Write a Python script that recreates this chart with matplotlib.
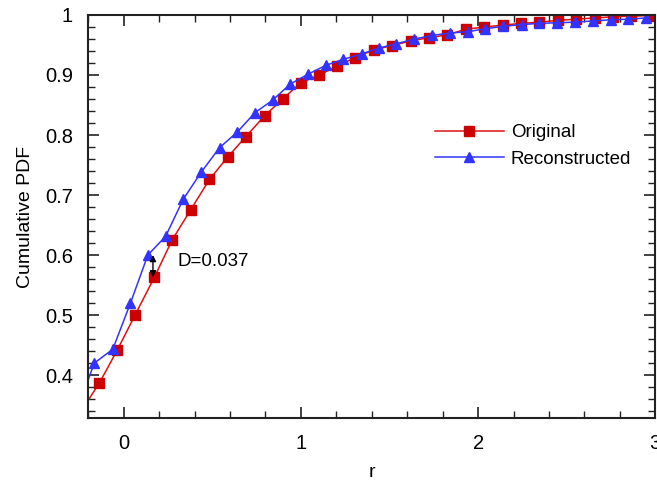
import matplotlib.pyplot as plt
from matplotlib.ticker import MultipleLocator, FormatStrFormatter

plt.rcParams['font.family'] = ['Liberation Sans', 'DejaVu Sans']

# --- CDF samples (first point of each lies just left of the plotted range) ---
r_orig = [-0.240, -0.137, -0.036, 0.064, 0.173, 0.273, 0.377, 0.484, 0.586, 0.688,
          0.795, 0.897, 0.998, 1.104, 1.206, 1.307, 1.412, 1.516, 1.620, 1.723,
          1.827, 1.929, 2.034, 2.138, 2.241, 2.346, 2.450, 2.552, 2.659, 2.760,
          2.862, 2.971]
cdf_orig = [0.340, 0.387, 0.442, 0.500, 0.563, 0.625, 0.675, 0.726, 0.763, 0.797,
            0.832, 0.860, 0.887, 0.900, 0.915, 0.929, 0.942, 0.949, 0.957, 0.962,
            0.967, 0.976, 0.980, 0.983, 0.986, 0.988, 0.991, 0.993, 0.995, 0.997,
            0.998, 0.999]

r_rec = [-0.263, -0.166, -0.062, 0.038, 0.136, 0.236, 0.336, 0.437, 0.541, 0.641,
         0.740, 0.840, 0.940, 1.038, 1.140, 1.238, 1.342, 1.441, 1.539, 1.641,
         1.742, 1.842, 1.941, 2.038, 2.141, 2.245, 2.345, 2.445, 2.546, 2.646,
         2.748, 2.847, 2.947]
cdf_rec = [0.342, 0.420, 0.443, 0.520, 0.600, 0.631, 0.693, 0.738, 0.779, 0.805,
           0.837, 0.858, 0.885, 0.901, 0.916, 0.926, 0.935, 0.945, 0.952, 0.960,
           0.966, 0.970, 0.972, 0.977, 0.981, 0.984, 0.986, 0.987, 0.988, 0.990,
           0.992, 0.993, 0.995]

# KS distance marker
D = 0.037
d_r = 0.165
d_low = cdf_orig[4]

fig = plt.figure(figsize=(6.57, 4.83), dpi=100)
ax = fig.add_axes([0.1344, 0.134, 0.863, 0.835])

ax.plot(r_orig, cdf_orig, color='#dd1111', lw=1.1, marker='s', ms=7.8,
        mfc='#cc0000', mec='#cc0000', label='Original')
ax.plot(r_rec, cdf_rec, color='#3333ff', lw=1.1, marker='^', ms=7.8,
        mfc='#3333ff', mec='#3333ff', label='Reconstructed')

ax.annotate('', xy=(d_r, d_low), xytext=(d_r, d_low + D),
            arrowprops=dict(arrowstyle='<|-|>', color='black', lw=1.0,
                            mutation_scale=9, shrinkA=0, shrinkB=0))
ax.text(0.305, 0.590, 'D=%.3f' % D, fontsize=13.5, va='center', ha='left')

ax.set_xlim(-0.2, 3.0)
ax.set_ylim(0.328, 1.0)

ax.xaxis.set_major_locator(MultipleLocator(1))
ax.xaxis.set_minor_locator(MultipleLocator(0.2))
ax.yaxis.set_major_locator(MultipleLocator(0.1))
ax.yaxis.set_minor_locator(MultipleLocator(0.02))
ax.xaxis.set_major_formatter(FormatStrFormatter('%g'))
ax.yaxis.set_major_formatter(FormatStrFormatter('%g'))

ax.tick_params(which='both', direction='in', top=True, right=True,
               labelsize=14.5, pad=11, color='#222222')
ax.tick_params(which='major', length=8, width=1.2)
ax.tick_params(which='minor', length=5, width=1.0)
for s in ax.spines.values():
    s.set_linewidth(1.5)
    s.set_color('#222222')

ax.set_xlabel('r', fontsize=14, labelpad=8)
ax.set_ylabel('Cumulative PDF', fontsize=14, labelpad=8)

ax.legend(loc='center left', bbox_to_anchor=(0.611, 0.675), frameon=False,
          fontsize=13.5, borderpad=0, borderaxespad=0, handlelength=3.7,
          handletextpad=0.35, labelspacing=0.5)

plt.savefig('out.png', dpi=100)
